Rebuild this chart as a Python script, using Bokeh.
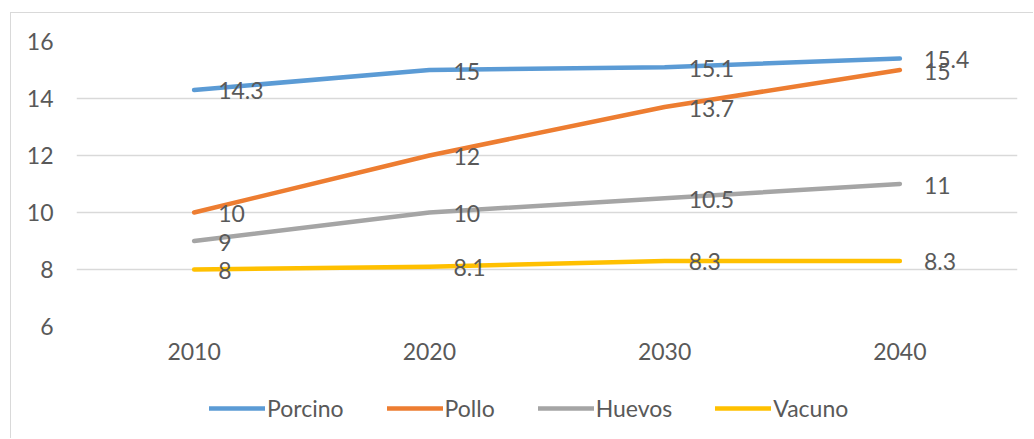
from bokeh.plotting import figure
from bokeh.layouts import column
from bokeh.models import (ColumnDataSource, FactorRange, Range1d, Legend, LegendItem,
                          FixedTicker)
from bokeh.core.properties import value
from bokeh.embed import file_html
from bokeh.resources import INLINE

years = ["2010", "2020", "2030", "2040"]
porcino = [14.3, 15, 15.1, 15.4]
pollo = [10, 12, 13.7, 15]
huevos = [9, 10, 10.5, 11]
vacuno = [8, 8.1, 8.3, 8.3]
y_ticks = [6, 8, 10, 12, 14, 16]

series = [
    ("Porcino", porcino, "#5B9BD5"),
    ("Pollo", pollo, "#ED7D31"),
    ("Huevos", huevos, "#A5A5A5"),
    ("Vacuno", vacuno, "#FFC000"),
]

FONT = "Lato"
TEXT = "#595959"
SIZE = "23px"
LINE_W = 4.5

# main chart
p = figure(width=1022, height=376, output_backend="svg", toolbar_location=None,
           x_range=FactorRange(*years, range_padding=0), y_range=Range1d(6, 16),
           min_border_left=65, min_border_right=16, min_border_top=28, min_border_bottom=63)
p.outline_line_color = None
p.background_fill_color = "white"
p.border_fill_color = "white"

p.xgrid.grid_line_color = None
p.ygrid.grid_line_color = "#D9D9D9"
p.ygrid.grid_line_width = 1.5
p.yaxis.ticker = FixedTicker(ticks=y_ticks)

for ax in (p.xaxis[0], p.yaxis[0]):
    ax.axis_line_color = None
    ax.major_tick_line_color = None
    ax.minor_tick_line_color = None
    ax.major_tick_out = 0
    ax.major_tick_in = 0
    ax.major_label_text_font = FONT
    ax.major_label_text_font_size = SIZE
    ax.major_label_text_color = TEXT
p.xaxis.major_label_standoff = 16
p.yaxis.major_label_standoff = 23

for name, vals, color in series:
    src = ColumnDataSource(dict(x=years, y=vals, lbl=[f"{v:g}" for v in vals]))
    p.line("x", "y", source=src, line_color=color, line_width=LINE_W, line_cap="round",
           line_join="round")
    p.text("x", "y", text="lbl", source=src, x_offset=24, y_offset=1,
           text_align="left", text_baseline="middle", text_color=TEXT,
           text_font=value(FONT), text_font_size=SIZE)

# legend strip under the chart
lg = figure(width=1022, height=49, output_backend="svg", toolbar_location=None,
            x_range=FactorRange(*years, range_padding=0), y_range=Range1d(6, 16),
            x_axis_location=None, y_axis_location=None,
            min_border_left=0, min_border_right=0, min_border_top=0, min_border_bottom=0)
lg.outline_line_color = None
lg.grid.visible = False
lg.background_fill_color = "white"
lg.border_fill_color = "white"

items = []
for name, vals, color in series:
    r = lg.line(years, vals, line_color=color, line_width=LINE_W, line_cap="round",
                visible=False)
    items.append(LegendItem(label=name, renderers=[r]))

legend = Legend(items=items, orientation="horizontal", location=(133, 16),
                label_text_font=FONT, label_text_font_size=SIZE, label_text_color=TEXT,
                glyph_width=56, glyph_height=20, label_height=20, label_standoff=2,
                spacing=43, padding=0, margin=0, border_line_color=None,
                background_fill_alpha=0)
lg.add_layout(legend, "center")

layout = column(p, lg, spacing=0, margin=(12, 0, 0, 10),
                styles={"border-left": "1px solid #D9D9D9", "border-top": "1px solid #D9D9D9"})

open("out.html", "w").write(file_html(layout, INLINE))
